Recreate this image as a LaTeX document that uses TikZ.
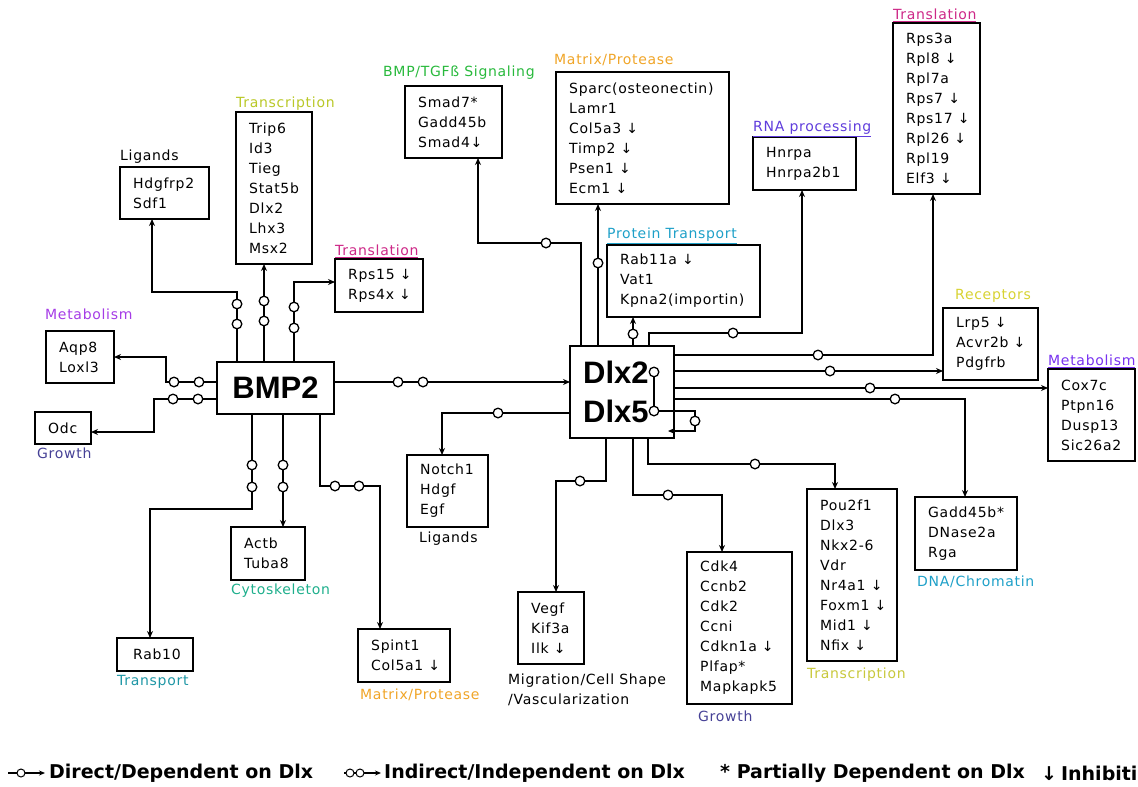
\documentclass[tikz,border=0pt]{standalone}
\usepackage{fontspec}
\usetikzlibrary{arrows.meta}
\newfontfamily\itemf{DejaVu Sans}[LetterSpace=5]
\newfontfamily\bigf{Liberation Sans}
\newfontfamily\legf{DejaVu Sans}
\definecolor{cYG}{RGB}{185,200,40}
\definecolor{cYG2}{RGB}{200,200,60}
\definecolor{cMag}{RGB}{205,40,135}
\definecolor{cPur}{RGB}{165,60,230}
\definecolor{cPur2}{RGB}{120,50,240}
\definecolor{cGrow}{RGB}{70,65,150}
\definecolor{cTeal}{RGB}{30,150,165}
\definecolor{cCyto}{RGB}{30,175,140}
\definecolor{cOrg}{RGB}{240,165,40}
\definecolor{cGrn}{RGB}{40,185,60}
\definecolor{cCyan}{RGB}{30,160,200}
\definecolor{cRNA}{RGB}{95,60,220}
\definecolor{cYel}{RGB}{215,210,50}
\tikzset{
  box/.style={draw, line width=1.6pt, rectangle, inner sep=0pt, outer sep=0pt, anchor=north west},
  items/.style={font=\itemf\fontsize{14}{20}\selectfont, align=left, inner sep=0pt, anchor=west},
  lab/.style={font=\itemf\fontsize{14}{20}\selectfont, inner sep=0pt, anchor=west},
  conn/.style={line width=1.6pt, -{Stealth[length=7pt,width=6pt]}},
  ring/.style={line width=1.3pt, fill=white},
  leg/.style={font=\legf\bfseries\fontsize{19}{19}\selectfont, inner sep=0pt, anchor=west},
}
\newcommand\genebox[6]{%
  \node[box, minimum width={(#4-#2)*1pt}, minimum height={(#5-#3)*1pt}] (#1) at (#2,#3) {};
  \node[items] (#1t) at ([xshift=13pt]#1.west) {#6};
}
\newcommand\ringat[2]{\draw[ring] (#1,#2) circle[radius=4.8pt];}
\begin{document}
\begin{tikzpicture}[x=1pt,y=-1pt]
\useasboundingbox (0,0) rectangle (1138,787);

% ---------- boxes ----------
\genebox{lig}{120}{167}{209}{219}{Hdgfrp2\\Sdf1}
\genebox{trs}{236}{112}{312}{264}{Trip6\\Id3\\Tieg\\Stat5b\\Dlx2\\Lhx3\\Msx2}
\genebox{tl1}{335}{259}{423}{312}{Rps15 ↓\\Rps4x ↓}
\genebox{met1}{46}{331}{114}{383}{Aqp8\\Loxl3}
\genebox{odc}{35}{412}{91}{444}{Odc}
\genebox{rab}{117}{638}{193}{671}{\hspace{3pt}Rab10}
\genebox{act}{231}{527}{305}{580}{Actb\\Tuba8}
\genebox{spint}{358}{629}{450}{682}{Spint1\\Col5a1 ↓}
\genebox{notch}{407}{455}{488}{527}{Notch1\\Hdgf\\Egf}
\genebox{smad}{405}{86}{502}{158}{Smad7*\\Gadd45b\\Smad4↓}
\genebox{mat}{556}{72}{729}{204}{Sparc(osteonectin)\\Lamr1\\Col5a3 ↓\\Timp2 ↓\\Psen1 ↓\\Ecm1 ↓}
\genebox{pt}{607}{245}{760}{317}{Rab11a ↓\\Vat1\\Kpna2(importin)}
\genebox{rna}{753}{137}{856}{190}{Hnrpa\\Hnrpa2b1}
\genebox{tl2}{893}{23}{980}{194}{Rps3a\\Rpl8 ↓\\Rpl7a\\Rps7 ↓\\Rps17 ↓\\Rpl26 ↓\\Rpl19\\Elf3 ↓}
\genebox{rec}{943}{308}{1038}{380}{Lrp5 ↓\\Acvr2b ↓\\Pdgfrb}
\genebox{met2}{1048}{369}{1135}{461}{Cox7c\\Ptpn16\\Dusp13\\Sic26a2}
\genebox{gad}{915}{497}{1017}{570}{Gadd45b*\\DNase2a\\Rga}
\genebox{pou}{807}{489}{897}{661}{Pou2f1\\Dlx3\\Nkx2-6\\Vdr\\Nr4a1 ↓\\Foxm1 ↓\\Mid1 ↓\\Nfix ↓}
\genebox{cdk}{687}{552}{792}{704}{Cdk4\\Ccnb2\\Cdk2\\Ccni\\Cdkn1a ↓\\Plfap*\\Mapkapk5}
\genebox{vegf}{518}{592}{584}{664}{Vegf\\Kif3a\\Ilk ↓}

% ---------- hubs ----------
\node[box, minimum width=117pt, minimum height=52pt] (bmp) at (217,362) {};
\node[font=\bigf\bfseries\fontsize{31}{31}\selectfont, inner sep=0pt] (bmpt) at (bmp.center) {BMP2};
\node[box, minimum width=104pt, minimum height=92pt] (dlx) at (570,346) {};
\node[font=\bigf\bfseries\fontsize{31}{39}\selectfont, align=left, inner sep=0pt, anchor=west] (dlxt) at (583,392) {Dlx2\\Dlx5};

% ---------- category labels ----------
\node[lab] (L1) at (120,157) {Ligands};
\node[lab, text=cYG] (L2) at (236,104) {Transcription};
\node[lab, text=cMag] (L3) at (335,251) {\underline{Translation}};
\node[lab, text=cPur] (L4) at (45,314) {Metabolism};
\node[lab, text=cGrow] (L5) at (37,453) {Growth};
\node[lab, text=cTeal] (L6) at (117,682) {Transport};
\node[lab, text=cCyto] (L7) at (231,591) {Cytoskeleton};
\node[lab, text=cOrg] (L8) at (360,695) {Matrix/Protease};
\node[lab] (L9) at (419,539) {Ligands};
\node[lab, text=cGrn] (L10) at (383,73) {BMP/TGFß Signaling};
\node[lab, text=cOrg] (L11) at (554,60) {Matrix/Protease};
\node[lab, text=cCyan] (L12) at (607,236) {\underline{Protein Transport}};
\node[lab, text=cRNA] (L13) at (753,129) {\underline{RNA processing}};
\node[lab, text=cMag] (L14) at (893,15) {\underline{Translation}};
\node[lab, text=cYel] (L15) at (955,296) {Receptors};
\node[lab, text=cPur2] (L16) at (1048,361) {\underline{Metabolism}};
\node[lab, text=cCyan] (L17) at (917,582) {DNA/Chromatin};
\node[lab, text=cYG2] (L18) at (807,675) {Transcription};
\node[lab, text=cGrow] (L19) at (698,716) {Growth};
\node[lab, align=left, font=\itemf\fontsize{14}{20}\selectfont] (L20) at (508,690) {Migration/Cell Shape\\/Vascularization};

% ---------- connectors from BMP2 ----------
\draw[conn] ([xshift=20pt]bmp.north west) |- (152,292) -- ([xshift=32pt]lig.south west);
\draw[conn] ([xshift=47pt]bmp.north west) -- ([xshift=28pt]trs.south west);
\draw[conn] ([xshift=77pt]bmp.north west) |- ([yshift=-23pt]tl1.north west);
\draw[conn] ([yshift=-20pt]bmp.north west) -| (166,357) -- (met1.east);
\draw[conn] ([yshift=-37pt]bmp.north west) -| (154,432) -- ([yshift=-20pt]odc.north east);
\draw[conn] ([xshift=35pt]bmp.south west) |- (150,509) -- ([xshift=33pt]rab.north west);
\draw[conn] ([xshift=66pt]bmp.south west) -- ([xshift=52pt]act.north west);
\draw[conn] ([xshift=103pt]bmp.south west) |- (380,486) -- ([xshift=22pt]spint.north west);
\draw[conn] ([yshift=-20pt]bmp.north east) -- ([yshift=-36pt]dlx.north west);

% ---------- connectors from Dlx ----------
\draw[conn] ([xshift=11pt]dlx.north west) |- (478,243) -- ([xshift=73pt]smad.south west);
\draw[conn] ([xshift=28pt]dlx.north west) -- ([xshift=42pt]mat.south west);
\draw[conn] ([xshift=63pt]dlx.north west) -- ([xshift=26pt]pt.south west);
\draw[conn] ([xshift=79pt]dlx.north west) |- (802,333) -- ([xshift=49pt]rna.south west);
\draw[conn] ([yshift=-9pt]dlx.north east) -| ([xshift=40pt]tl2.south west);
\draw[conn] ([yshift=-25pt]dlx.north east) -- ([yshift=-63pt]rec.north west);
\draw[conn] ([yshift=-42pt]dlx.north east) -- ([yshift=-19pt]met2.north west);
\draw[conn] ([yshift=-53pt]dlx.north east) -| ([xshift=50pt]gad.north west);
\draw[conn] ([yshift=-67pt]dlx.north west) -| ([xshift=35pt]notch.north west);
\draw[conn] ([xshift=36pt]dlx.south west) |- (556,481) -- ([xshift=38pt]vegf.north west);
\draw[conn] ([xshift=63pt]dlx.south west) |- (722,495) -- ([xshift=35pt]cdk.north west);
\draw[conn] ([xshift=78pt]dlx.south west) |- (835,464) -- ([xshift=28pt]pou.north west);
\coordinate (lp) at (654,372);
\draw[conn] (lp) -- (654,411) -- (695,411) -- (695,431) -- ([xshift=-6pt,yshift=7pt]dlx.south east);

% ---------- rings ----------
\ringat{237}{304}\ringat{237}{324}
\ringat{264}{301}\ringat{264}{321}
\ringat{294}{307}\ringat{294}{328}
\ringat{174}{382}\ringat{199}{382}
\ringat{173}{399}\ringat{198}{399}
\ringat{252}{465}\ringat{252}{487}
\ringat{283}{465}\ringat{283}{487}
\ringat{335}{486}\ringat{359}{486}
\ringat{398}{382}\ringat{423}{382}
\ringat{546}{243}\ringat{598}{263}\ringat{633}{334}\ringat{733}{333}
\ringat{818}{355}\ringat{830}{371}\ringat{870}{388}\ringat{895}{399}
\ringat{498}{413}\ringat{580}{481}\ringat{668}{495}\ringat{755}{464}
\ringat{654}{372}\ringat{654}{411}\ringat{695}{421}

% ---------- legend ----------
\coordinate (la1) at (8,773); \coordinate (lb1) at (45,773);
\draw[line width=1.2pt, -{Stealth[length=6pt,width=5pt]}] (la1) -- (lb1);
\draw[ring, line width=1pt] (21,773) circle[radius=4pt];
\node[leg] (T1) at (49,773) {Direct/Dependent on Dlx};
\coordinate (la2) at (344,773); \coordinate (lb2) at (381,773);
\draw[line width=1.2pt, -{Stealth[length=6pt,width=5pt]}] (la2) -- (lb2);
\draw[ring, line width=1pt] (350,773) circle[radius=4pt];
\draw[ring, line width=1pt] (360,773) circle[radius=4pt];
\node[leg] (T2) at (384,773) {Indirect/Independent on Dlx};
\node[leg] (T3) at (720,773) {* Partially Dependent on Dlx};
\node[leg] (T4) at (1041,773) {↓\hspace{4pt}Inhibiti};
\end{tikzpicture}
\end{document}
